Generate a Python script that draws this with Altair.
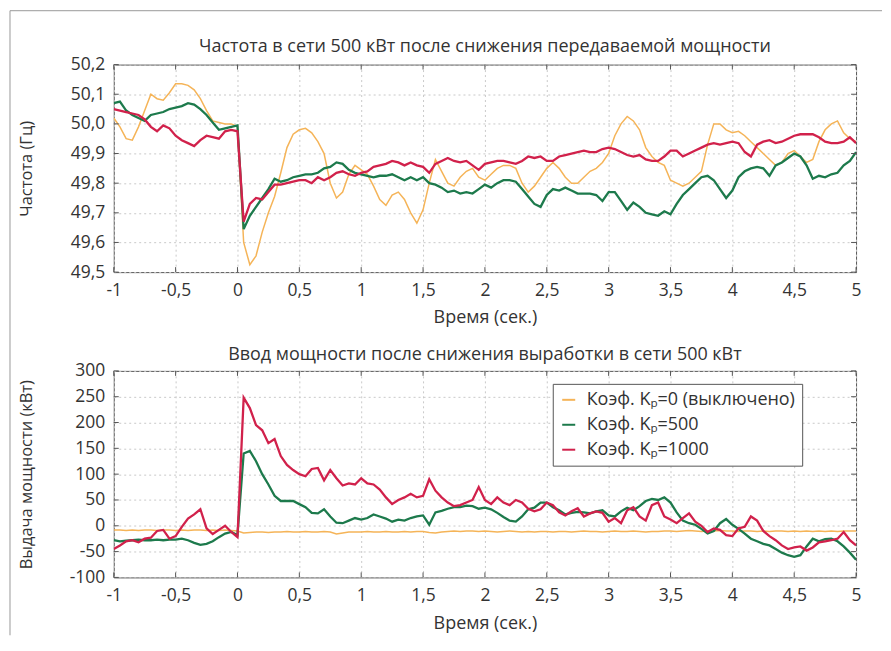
import altair as alt
import pandas as pd

# ---------------- data ----------------
TIME = [round(-1 + 0.05 * i, 2) for i in range(121)]  # sampling grid, s

SERIES = ["Коэф. Kₚ=0 (выключено)", "Коэф. Kₚ=500", "Коэф. Kₚ=1000"]
COLORS = ["#f5b458", "#1d7a4c", "#d1214b"]
WIDTHS = [1.5, 2.3, 2.3]

# Frequency (Hz), top panel
FREQ_KP0 = [
    50.02, 49.99, 49.95, 49.945, 49.99, 50.045, 50.10, 50.085, 50.08, 50.105,
    50.135, 50.135, 50.13, 50.115, 50.085, 50.045, 50.01, 50.005, 50.00, 50.00,
    49.99, 49.60, 49.525, 49.555, 49.635, 49.70, 49.755, 49.835, 49.92, 49.965,
    49.98, 49.985, 49.97, 49.94, 49.90, 49.80, 49.75, 49.77, 49.83, 49.86,
    49.845, 49.83, 49.79, 49.745, 49.725, 49.76, 49.77, 49.745, 49.70, 49.665,
    49.71, 49.80, 49.88, 49.84, 49.80, 49.79, 49.82, 49.84, 49.85, 49.82,
    49.81, 49.83, 49.85, 49.86, 49.86, 49.85, 49.80, 49.77, 49.79, 49.82,
    49.85, 49.87, 49.85, 49.82, 49.80, 49.80, 49.82, 49.84, 49.85, 49.87,
    49.90, 49.96, 50.00, 50.025, 50.01, 49.98, 49.92, 49.89, 49.87, 49.86,
    49.81, 49.80, 49.79, 49.80, 49.82, 49.84, 49.93, 50.00, 50.00, 49.98,
    49.97, 49.975, 49.96, 49.94, 49.92, 49.90, 49.88, 49.86, 49.87, 49.90,
    49.91, 49.89, 49.87, 49.88, 49.94, 49.98, 50.00, 50.01, 49.97, 49.95,
    49.94,
]
FREQ_KP500 = [
    50.07, 50.075, 50.045, 50.03, 50.02, 50.01, 50.03, 50.035, 50.04, 50.05,
    50.055, 50.06, 50.07, 50.065, 50.05, 50.03, 50.005, 49.98, 49.985, 49.99,
    49.995, 49.645, 49.69, 49.72, 49.75, 49.78, 49.815, 49.805, 49.81, 49.82,
    49.825, 49.83, 49.83, 49.835, 49.85, 49.855, 49.87, 49.865, 49.845, 49.835,
    49.83, 49.825, 49.82, 49.825, 49.825, 49.83, 49.82, 49.81, 49.82, 49.81,
    49.82, 49.80, 49.795, 49.785, 49.77, 49.775, 49.765, 49.77, 49.765, 49.78,
    49.795, 49.785, 49.80, 49.81, 49.81, 49.805, 49.78, 49.755, 49.73, 49.72,
    49.76, 49.78, 49.775, 49.785, 49.775, 49.765, 49.765, 49.765, 49.76, 49.74,
    49.77, 49.77, 49.74, 49.71, 49.735, 49.72, 49.70, 49.695, 49.69, 49.705,
    49.695, 49.73, 49.76, 49.78, 49.80, 49.82, 49.825, 49.81, 49.78, 49.75,
    49.775, 49.82, 49.84, 49.85, 49.855, 49.85, 49.825, 49.86, 49.87, 49.885,
    49.90, 49.89, 49.86, 49.815, 49.825, 49.82, 49.83, 49.835, 49.86, 49.875,
    49.905,
]
FREQ_KP1000 = [
    50.05, 50.045, 50.04, 50.035, 50.03, 50.015, 49.99, 49.975, 49.995, 49.985,
    49.96, 49.945, 49.935, 49.925, 49.945, 49.96, 49.955, 49.95, 49.975, 49.98,
    49.975, 49.67, 49.73, 49.75, 49.745, 49.77, 49.795, 49.795, 49.80, 49.805,
    49.81, 49.81, 49.80, 49.82, 49.81, 49.82, 49.835, 49.84, 49.83, 49.825,
    49.835, 49.84, 49.855, 49.86, 49.865, 49.875, 49.87, 49.86, 49.87, 49.86,
    49.855, 49.835, 49.865, 49.875, 49.885, 49.875, 49.87, 49.875, 49.86, 49.845,
    49.865, 49.87, 49.875, 49.875, 49.87, 49.865, 49.875, 49.89, 49.885, 49.89,
    49.875, 49.875, 49.89, 49.895, 49.90, 49.905, 49.91, 49.905, 49.905, 49.915,
    49.92, 49.915, 49.905, 49.895, 49.89, 49.895, 49.88, 49.875, 49.875, 49.89,
    49.91, 49.91, 49.89, 49.90, 49.91, 49.92, 49.93, 49.935, 49.93, 49.935,
    49.94, 49.935, 49.905, 49.89, 49.93, 49.94, 49.945, 49.935, 49.94, 49.95,
    49.96, 49.965, 49.965, 49.965, 49.955, 49.94, 49.935, 49.935, 49.94, 49.955,
    49.935,
]

# Power output (kW), bottom panel
POW_KP0 = [
    -8, -8, -9, -8, -9, -8, -8, -9, -8, -8,
    -9, -8, -9, -8, -8, -9, -8, -9, -8, -9,
    -10, -14, -13, -12, -12, -13, -12, -12, -11, -12,
    -12, -11, -12, -12, -11, -12, -16, -14, -12, -12,
    -12, -11, -12, -12, -11, -12, -12, -11, -12, -11,
    -11, -13, -14, -12, -11, -10, -11, -10, -10, -11,
    -10, -11, -12, -11, -10, -11, -12, -11, -12, -11,
    -11, -12, -11, -11, -12, -11, -10, -11, -11, -12,
    -11, -10, -11, -11, -10, -11, -12, -11, -11, -10,
    -10, -11, -10, -9, -10, -11, -10, -10, -9, -10,
    -10, -11, -10, -10, -11, -10, -11, -10, -10, -11,
    -10, -11, -10, -11, -10, -11, -10, -11, -10, -10,
    -10,
]
POW_KP500 = [
    -28, -30, -29, -28, -27, -28, -28, -27, -28, -27,
    -27, -25, -28, -33, -37, -35, -30, -22, -15, -12,
    -18, 140, 145, 125, 100, 80, 58, 48, 48, 48,
    42, 36, 25, 24, 32, 18, 6, 5, 10, 15,
    12, 15, 22, 18, 14, 8, 12, 10, 15, 18,
    20, 2, 26, 29, 33, 36, 36, 39, 38, 33,
    35, 32, 25, 17, 10, 8, 18, 32, 35, 45,
    45, 36, 30, 22, 25, 27, 26, 24, 28, 30,
    20, 18, 28, 35, 30, 38, 48, 52, 50, 55,
    45, 26, 10, 5, 2, -6, -15, -10, 5, 13,
    2, -6, -15, -25, -30, -35, -38, -45, -52, -57,
    -60, -57, -40, -25, -30, -26, -25, -30, -40, -52,
    -66,
]
POW_KP1000 = [
    -45, -38, -30, -28, -32, -25, -23, -10, -8, -25,
    -20, -2, 14, 22, 32, -5, -16, -8, 0, -12,
    -22, 248, 228, 195, 185, 160, 168, 135, 118, 108,
    100, 96, 110, 112, 88, 108, 92, 78, 82, 80,
    92, 82, 80, 70, 55, 42, 50, 55, 62, 55,
    58, 90, 68, 55, 45, 38, 40, 45, 50, 75,
    50, 42, 55, 45, 40, 50, 45, 33, 28, 32,
    45, 40, 26, 20, 28, 34, 18, 24, 28, 25,
    8, 15, 5, 30, 36, 18, 10, 40, 45, 18,
    12, 5, 15, 24, 8, 0, -12, -5, -8, -18,
    -20, -5, -2, 18, 10, -10, -20, -28, -38, -45,
    -42, -40, -48, -42, -32, -30, -28, -25, -12, -28,
    -38,
]

X_TICKS = [-1, -0.5, 0, 0.5, 1, 1.5, 2, 2.5, 3, 3.5, 4, 4.5, 5]
Y1_TICKS = [49.5, 49.6, 49.7, 49.8, 49.9, 50.0, 50.1, 50.2]
Y2_TICKS = [-100, -50, 0, 50, 100, 150, 200, 250, 300]

TITLE1 = "Частота в сети 500 кВт после снижения передаваемой мощности"
TITLE2 = "Ввод мощности после снижения выработки в сети 500 кВт"
XTITLE = "Время (сек.)"
Y1TITLE = "Частота (Гц)"
Y2TITLE = "Выдача мощности (кВт)"

# ---------------- styling ----------------
FONT = "Open Sans"
TXT = "#333333"
W, H1, H2 = 744, 208, 207
GAP = 99
TICK_LEN = 5
TICK_COLOR = "#555555"

MINUS = "\u2212"
X_LABELS = f"replace(replace(format(datum.value, '~g'), '.', ','), '{MINUS}', '-')"
Y1_LABELS = "replace(format(datum.value, '.1f'), '.', ',')"
Y2_LABELS = f"replace(format(datum.value, 'd'), '{MINUS}', '-')"

axis_common = dict(
    grid=True, gridColor="#c9c9c9", gridDash=[2, 3], gridWidth=1,
    ticks=False, tickSize=0, domain=False, labelFlush=False, labelOverlap=False,
    labelFont=FONT, labelFontSize=17.5, labelColor=TXT, titleColor=TXT,
    titleFont=FONT, titleFontWeight="normal",
)


def long_frame(vals_list, field):
    rows = []
    for s, vals in zip(SERIES, vals_list):
        for t, v in zip(TIME, vals):
            rows.append({"t": t, field: v, "s": s})
    return pd.DataFrame(rows)


def panel(vals_list, field, domain, yticks, yexpr, ytitle, title, h, legend, title_dy):
    df = long_frame(vals_list, field)
    xenc = alt.X("t:Q", scale=alt.Scale(domain=[-1, 5], nice=False, zero=False),
                 axis=alt.Axis(values=X_TICKS, title=XTITLE, labelExpr=X_LABELS,
                               labelPadding=9, titleY=46, titleBaseline="middle",
                               titleFontSize=18, **axis_common))
    yenc = alt.Y(f"{field}:Q", scale=alt.Scale(domain=domain, nice=False, zero=False),
                 axis=alt.Axis(values=yticks, title=ytitle, labelExpr=yexpr, labelPadding=9,
                               titleX=-87, titleY=h / 2, titleBaseline="middle",
                               titleFontSize=16.5, **axis_common))
    layers = []
    for s, w in zip(SERIES, WIDTHS):
        layers.append(
            alt.Chart(df[df["s"] == s]).mark_line(strokeWidth=w, clip=True).encode(
                x=xenc, y=yenc,
                color=alt.Color("s:N", scale=alt.Scale(domain=SERIES, range=COLORS), legend=legend),
            )
        )
    # inward ticks on all four sides of the plot box
    xt = pd.DataFrame({"t": X_TICKS})
    yt = pd.DataFrame({field: yticks})
    for ya, yb in ((0, TICK_LEN), (h, h - TICK_LEN)):
        layers.append(alt.Chart(xt).mark_rule(color=TICK_COLOR, strokeWidth=1).encode(
            x=xenc, y=alt.value(ya), y2=alt.value(yb)))
    for xa, xb in ((0, TICK_LEN), (W, W - TICK_LEN)):
        layers.append(alt.Chart(yt).mark_rule(color=TICK_COLOR, strokeWidth=1).encode(
            y=yenc, x=alt.value(xa), x2=alt.value(xb)))
    # panel title as text
    one = pd.DataFrame({"k": [0]})
    layers.append(alt.Chart(one).mark_text(
        font=FONT, fontSize=18, color=TXT, align="center", baseline="middle").encode(
        x=alt.value(W / 2), y=alt.value(title_dy), text=alt.value(title)))
    return layers


top_layers = panel([FREQ_KP0, FREQ_KP500, FREQ_KP1000], "f", [49.5, 50.2], Y1_TICKS,
                   Y1_LABELS, Y1TITLE, TITLE1, H1, None, -18)

legend = alt.Legend(
    orient="none", legendX=440, legendY=13, title=None, symbolType="stroke",
    symbolSize=170, symbolStrokeWidth=2, labelFont=FONT, labelFontSize=18, labelColor=TXT,
    labelLimit=500, strokeColor="#555555", fillColor="white", padding=7, rowPadding=7,
    labelOffset=9,
)
bot_layers = panel([POW_KP0, POW_KP500, POW_KP1000], "p", [-100, 300], Y2_TICKS,
                   Y2_LABELS, Y2TITLE, TITLE2, H2, legend, -16)

# outer figure frame (left and top border lines of the figure)
one = pd.DataFrame({"k": [0]})
frame_left = alt.Chart(one).mark_rule(color="#9a9a9a", strokeWidth=1).encode(
    x=alt.value(-104), y=alt.value(-(H1 + GAP + 54)), y2=alt.value(H2 + 58))
frame_top = alt.Chart(one).mark_rule(color="#9a9a9a", strokeWidth=1).encode(
    x=alt.value(-104), x2=alt.value(W + 26), y=alt.value(-(H1 + GAP + 54)))

top = alt.layer(*top_layers).properties(width=W, height=H1)
bottom = alt.layer(*bot_layers, frame_left, frame_top).properties(width=W, height=H2)

chart = alt.vconcat(top, bottom, spacing=GAP, bounds="flush").resolve_scale(
    x="independent", y="independent", color="independent"
).properties(
    padding={"left": 1, "top": 1, "right": 0, "bottom": 0},
    background="white",
).configure_view(stroke="#555555", strokeWidth=1)

chart.save("out.html", embed_options={"renderer": "svg", "actions": False})
